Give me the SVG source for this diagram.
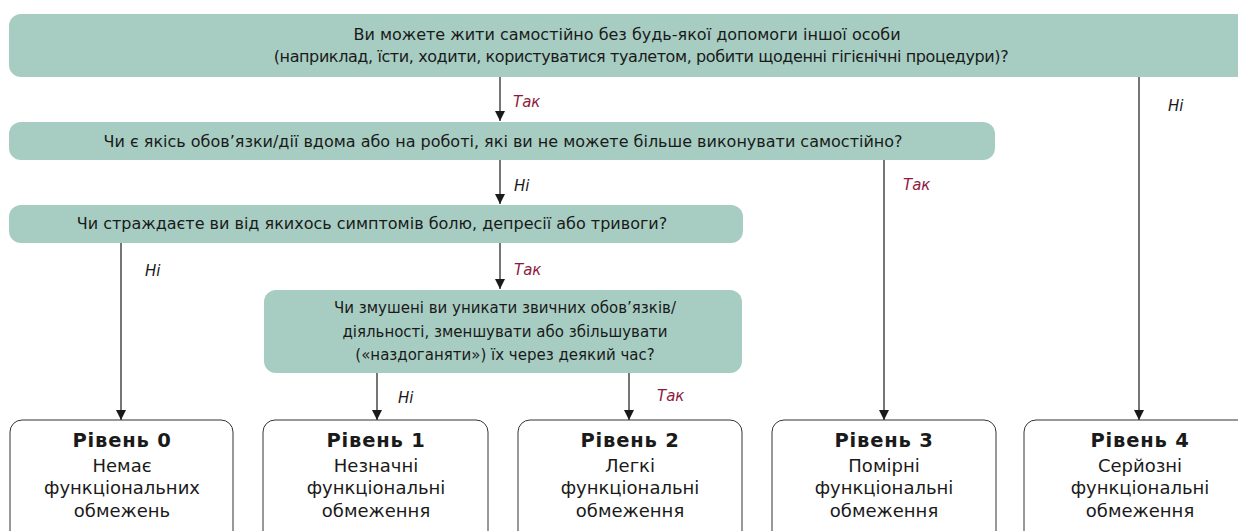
<svg xmlns="http://www.w3.org/2000/svg" width="1238" height="531" viewBox="0 0 1238 531">
<defs>
<marker id="ah" viewBox="0 0 10 10" refX="10" refY="5" markerWidth="10" markerHeight="11" markerUnits="userSpaceOnUse" orient="auto">
<path d="M0,0 L10,5 L0,10 Z" fill="#1a1a1a"/>
</marker>
<style>
.q{fill:#a7cdc2;stroke:none}
.lv{fill:#fff;stroke:#333;stroke-width:1}
.t{font-family:"DejaVu Sans","Liberation Sans",sans-serif;font-size:16px;fill:#1a1a1a;text-anchor:middle}
.s{font-size:15px}
.b{font-weight:bold;font-size:19.5px;letter-spacing:0.8px}
.lvt{font-size:18px}
.yes{font-family:"DejaVu Sans","Liberation Sans",sans-serif;font-style:italic;font-size:15px;fill:#8e1b3e}
.no{font-family:"DejaVu Sans","Liberation Sans",sans-serif;font-style:italic;font-size:15px;fill:#1a1a1a}
.c{stroke:#1a1a1a;stroke-width:1.2;fill:none;marker-end:url(#ah)}
</style>
</defs>
<rect width="1238" height="531" fill="#fff"/>
<g id="q1">
<rect class="q" x="9" y="14" width="1245" height="63" rx="12"/>
<text class="t" x="627" y="40">Ви можете жити самостійно без будь-якої допомоги іншої особи</text>
<text class="t" x="641" y="62" letter-spacing="-0.4">(наприклад, їсти, ходити, користуватися туалетом, робити щоденні гігієнічні процедури)?</text>
</g>
<g id="q2">
<rect class="q" x="9" y="122" width="986" height="38" rx="12"/>
<text class="t" x="503" y="147">Чи є якісь обов’язки/дії вдома або на роботі, які ви не можете більше виконувати самостійно?</text>
</g>
<g id="q3">
<rect class="q" x="9" y="205" width="734" height="38" rx="12"/>
<text class="t" x="372" y="229">Чи страждаєте ви від якихось симптомів болю, депресії або тривоги?</text>
</g>
<g id="q4">
<rect class="q" x="264" y="290" width="478" height="83" rx="12"/>
<text class="t s" x="505" y="313">Чи змушені ви уникати звичних обов’язків/</text>
<text class="t s" x="505" y="337">діяльності, зменшувати або збільшувати</text>
<text class="t s" x="505" y="360">(«наздоганяти») їх через деякий час?</text>
</g>
<g id="connectors">
<line class="c" x1="500" y1="77" x2="500" y2="121"/>
<line class="c" x1="1139" y1="77" x2="1139" y2="420"/>
<line class="c" x1="500" y1="160" x2="500" y2="204"/>
<line class="c" x1="884" y1="160" x2="884" y2="420"/>
<line class="c" x1="121" y1="243" x2="121" y2="420"/>
<line class="c" x1="500" y1="243" x2="500" y2="289"/>
<line class="c" x1="377" y1="373" x2="377" y2="420"/>
<line class="c" x1="629" y1="373" x2="629" y2="420"/>
<text class="yes" x="513" y="107">Так</text>
<text class="no" x="1168" y="111">Ні</text>
<text class="no" x="514" y="191">Ні</text>
<text class="yes" x="903" y="190">Так</text>
<text class="no" x="145" y="276">Ні</text>
<text class="yes" x="514" y="275">Так</text>
<text class="no" x="398" y="403">Ні</text>
<text class="yes" x="657" y="401">Так</text>
</g>
<g id="l0">
<rect class="lv" x="10" y="420" width="223" height="130" rx="12"/>
<text class="t b" x="122" y="447">Рівень 0</text>
<text class="t lvt" x="122" y="472">Немає</text>
<text class="t lvt" x="122" y="494">функціональних</text>
<text class="t lvt" x="122" y="517">обмежень</text>
</g>
<g id="l1">
<rect class="lv" x="263" y="420" width="225" height="130" rx="12"/>
<text class="t b" x="376" y="447">Рівень 1</text>
<text class="t lvt" x="376" y="472">Незначні</text>
<text class="t lvt" x="376" y="494">функціональні</text>
<text class="t lvt" x="376" y="517">обмеження</text>
</g>
<g id="l2">
<rect class="lv" x="518" y="420" width="224" height="130" rx="12"/>
<text class="t b" x="630" y="447">Рівень 2</text>
<text class="t lvt" x="630" y="472">Легкі</text>
<text class="t lvt" x="630" y="494">функціональні</text>
<text class="t lvt" x="630" y="517">обмеження</text>
</g>
<g id="l3">
<rect class="lv" x="772" y="420" width="224" height="130" rx="12"/>
<text class="t b" x="884" y="447">Рівень 3</text>
<text class="t lvt" x="884" y="472">Помірні</text>
<text class="t lvt" x="884" y="494">функціональні</text>
<text class="t lvt" x="884" y="517">обмеження</text>
</g>
<g id="l4">
<rect class="lv" x="1024" y="420" width="240" height="130" rx="12"/>
<text class="t b" x="1140" y="447">Рівень 4</text>
<text class="t lvt" x="1140" y="472">Серйозні</text>
<text class="t lvt" x="1140" y="494">функціональні</text>
<text class="t lvt" x="1140" y="517">обмеження</text>
</g>
</svg>
